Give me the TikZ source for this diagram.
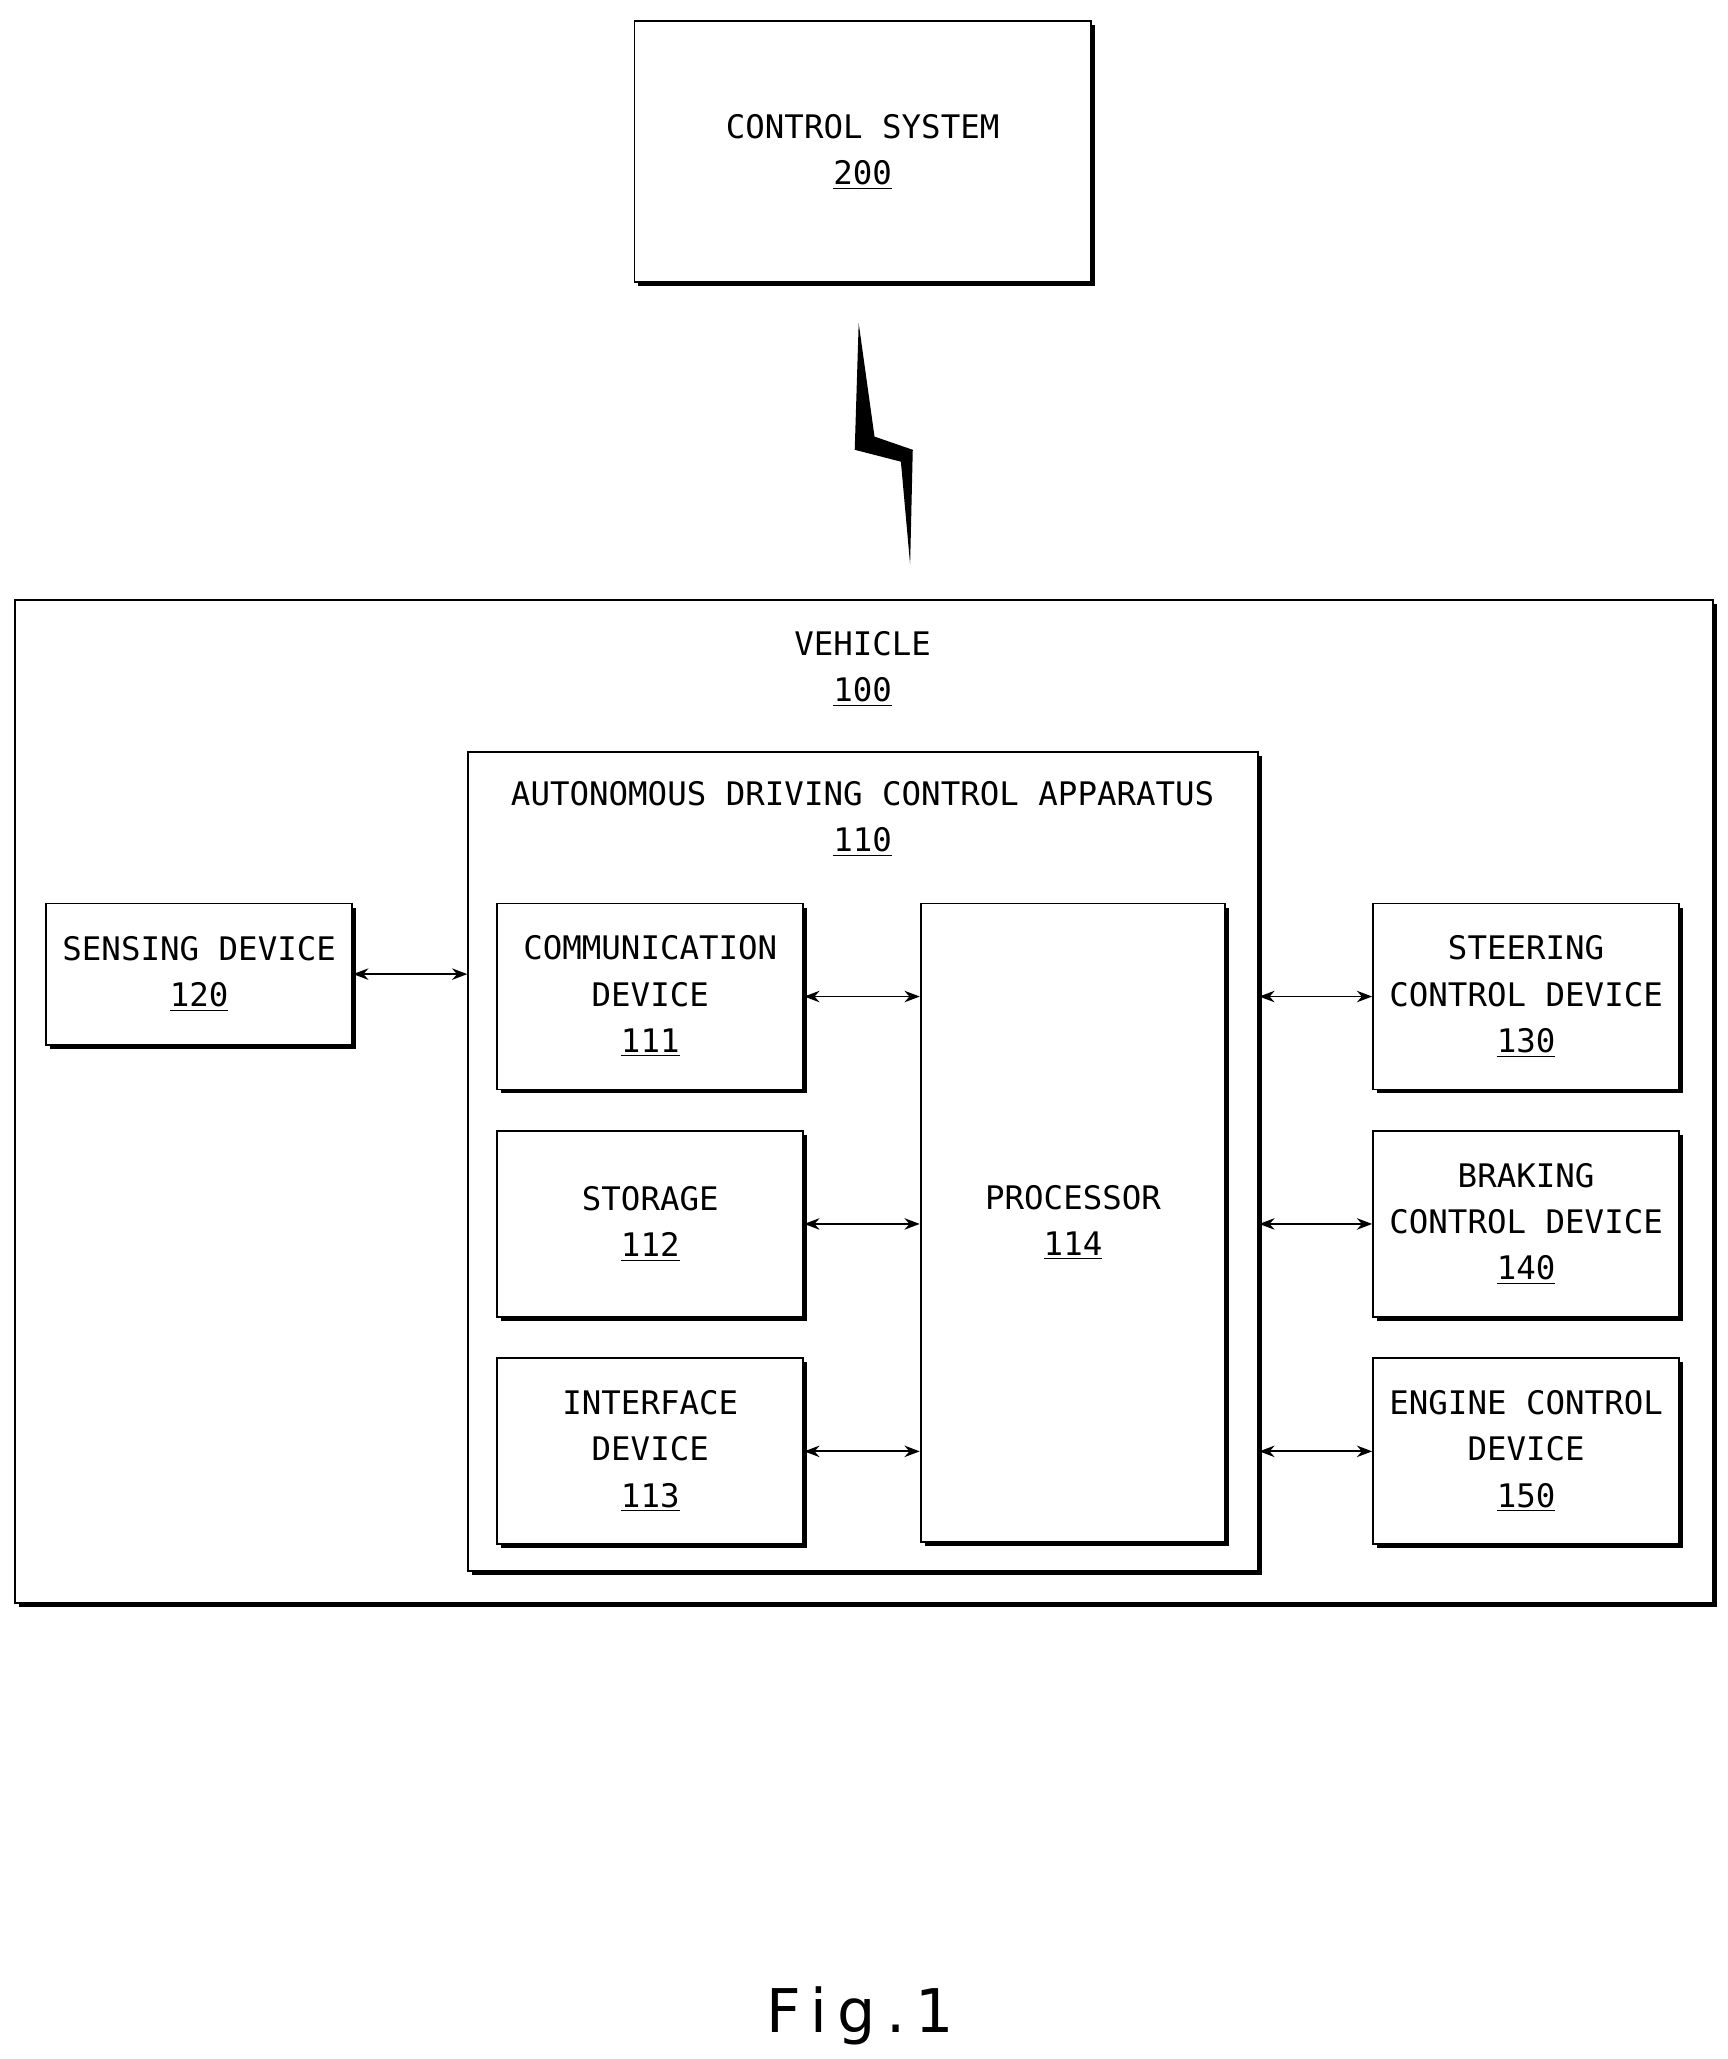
\documentclass[tikz,border=0pt]{standalone}
\usepackage{fontspec}
\setmonofont{DejaVu Sans Mono}
\setsansfont{DejaVu Sans}
\usetikzlibrary{arrows.meta,positioning,shadows}

\tikzset{
    blk/.style={
        rectangle,
        draw,
        thick,
        fill=white,
        align=center,
        inner sep=0pt,
        font=\ttfamily\fontsize{14}{20}\selectfont,
        drop shadow={shadow xshift=0.06cm, shadow yshift=-0.06cm, fill=black, opacity=1}
    },
    lbl/.style={
        align=center,
        font=\ttfamily\fontsize{14}{20}\selectfont
    },
    link/.style={Stealth-Stealth, thick}
}

\begin{document}
\begin{tikzpicture}
        \useasboundingbox (0,0) rectangle (26.2,-31.22);

        % control system and wireless link
        \node (ctrl) [blk, minimum width=6.92cm, minimum height=3.96cm] at (13.08,-2.30)
            {CONTROL SYSTEM\\\underline{200}};
        \fill (13.02,-4.90) -- (13.26,-6.62) -- (13.84,-6.82) -- (13.80,-8.56)
            -- (13.66,-7.00) -- (12.96,-6.82) -- cycle;

        % vehicle
        \node (veh) [blk, minimum width=25.74cm, minimum height=15.2cm] at (13.10,-16.70) {};
        \node (vehlbl) [lbl] at (13.08,-10.14) {VEHICLE\\\underline{100}};

        \node (adca) [blk, minimum width=11.98cm, minimum height=12.42cm] at (13.09,-17.61) {};
        \node (adcalbl) [lbl] at (13.08,-12.42) {AUTONOMOUS DRIVING CONTROL APPARATUS\\\underline{110}};

        \node (sens) [blk, minimum width=4.64cm, minimum height=2.14cm] at (3.02,-14.77)
            {SENSING DEVICE\\\underline{120}};

        \node (comm) [blk, minimum width=4.64cm, minimum height=2.82cm] at (9.86,-15.11)
            {COMMUNICATION\\DEVICE\\\underline{111}};
        \node (stor) [blk, minimum width=4.64cm, minimum height=2.82cm, below=0.6cm of comm]
            {STORAGE\\\underline{112}};
        \node (intf) [blk, minimum width=4.64cm, minimum height=2.82cm, below=0.6cm of stor]
            {INTERFACE\\DEVICE\\\underline{113}};

        \node (proc) [blk, minimum width=4.62cm, minimum height=9.68cm] at (16.27,-18.54)
            {PROCESSOR\\\underline{114}};

        \node (steer) [blk, minimum width=4.64cm, minimum height=2.82cm] at (23.14,-15.11)
            {STEERING\\CONTROL DEVICE\\\underline{130}};
        \node (brake) [blk, minimum width=4.64cm, minimum height=2.82cm, below=0.6cm of steer]
            {BRAKING\\CONTROL DEVICE\\\underline{140}};
        \node (eng) [blk, minimum width=4.64cm, minimum height=2.82cm, below=0.6cm of brake]
            {ENGINE CONTROL\\DEVICE\\\underline{150}};

        \draw[link] (sens.east) -- (sens.east -| adca.west);
        \draw[link] (comm.east) -- (comm.east -| proc.west);
        \draw[link] (stor.east) -- (stor.east -| proc.west);
        \draw[link] (intf.east) -- (intf.east -| proc.west);
        \draw[link] (steer.west -| adca.east) -- (steer.west);
        \draw[link] (brake.west -| adca.east) -- (brake.west);
        \draw[link] (eng.west -| adca.east) -- (eng.west);

        \node (fig) [font=\sffamily\fontsize{26}{32}\selectfont] at (13.04,-30.56) {F\,i\,g\,.\,1};
    \end{tikzpicture}
\end{document}
